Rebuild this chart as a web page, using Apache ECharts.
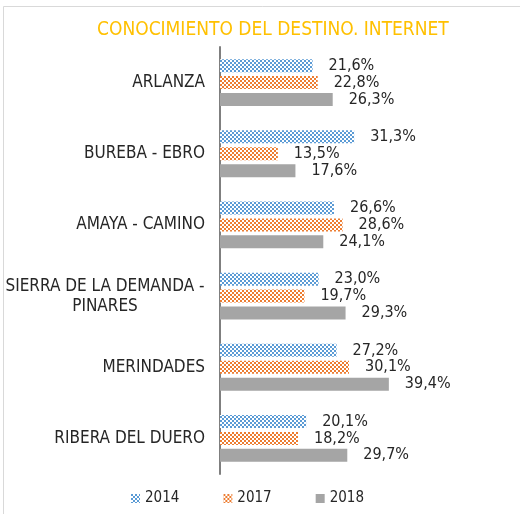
<!DOCTYPE html>
<html>
<head>
<meta charset="utf-8">
<script src="https://cdn.jsdelivr.net/npm/echarts@6/dist/echarts.min.js"></script>
<style>
  html, body { margin: 0; padding: 0; background: #fff; }
  #chart { width: 520px; height: 514px; }
</style>
</head>
<body>
<div id="chart"></div>
<script>
const titleText = 'CONOCIMIENTO DEL DESTINO. INTERNET';
const categories = ['ARLANZA', 'BUREBA - EBRO', 'AMAYA - CAMINO', 'SIERRA DE LA DEMANDA -\nPINARES', 'MERINDADES', 'RIBERA DEL DUERO'];
const years = ['2014', '2017', '2018'];
const values2014 = [21.6, 31.3, 26.6, 23.0, 27.2, 20.1];
const values2017 = [22.8, 13.5, 28.6, 19.7, 30.1, 18.2];
const values2018 = [26.3, 17.6, 24.1, 29.3, 39.4, 29.7];

const FONT = "'Liberation Sans Narrow', 'Arial Narrow', 'DejaVu Sans Condensed', sans-serif";

// small checkerboard tile used as a bar fill
function checker(fg, bg) {
  const c = document.createElement('canvas');
  c.width = 4; c.height = 4;
  const g = c.getContext('2d');
  g.fillStyle = bg; g.fillRect(0, 0, 4, 4);
  g.fillStyle = fg;
  g.fillRect(0, 0, 2, 2);
  g.fillRect(2, 2, 2, 2);
  return { image: c, repeat: 'repeat' };
}

const fills = [checker('#5B9BD5', '#ffffff'), checker('#ED7D31', '#ffffff'), '#A5A5A5'];
const seriesValues = [values2014, values2017, values2018];

const chart = echarts.init(document.getElementById('chart'), null, { renderer: 'canvas' });

const fmtPct = v => v.toFixed(1).replace('.', ',') + '%';

chart.setOption({
  animation: false,
  backgroundColor: '#ffffff',
  textStyle: { fontFamily: FONT },
  graphic: [{
    type: 'rect',
    shape: { x: 3.5, y: 6.5, width: 540, height: 540 },
    style: { fill: 'none', stroke: '#D9D9D9', lineWidth: 1 },
    silent: true
  }],
  title: {
    text: titleText,
    left: 92, top: 16,
    textStyle: { color: '#FFC000', fontSize: 19, fontWeight: 'normal', fontFamily: FONT }
  },
  legend: {
    left: 126, top: 486,
    itemWidth: 9, itemHeight: 9, itemGap: 44,
    itemStyle: { borderWidth: 0 },
    icon: 'rect',
    textStyle: { color: '#262626', fontSize: 15, fontFamily: FONT },
    data: years
  },
  grid: { left: 220, top: 47, width: 301, height: 427, containLabel: false },
  xAxis: {
    type: 'value', min: 0, max: 70,
    show: false
  },
  yAxis: {
    type: 'category', inverse: true,
    data: categories,
    axisLine: { show: true, lineStyle: { color: '#7F7F7F', width: 2 } },
    axisTick: { show: false },
    axisLabel: {
      margin: 15,
      color: '#262626', fontSize: 17, fontFamily: FONT,
      formatter: v => v.indexOf('\n') >= 0 ? v.split('\n').map(s => '{c|' + s + '}').join('\n') : v,
      rich: { c: { width: 200, align: 'center', fontSize: 17, fontFamily: FONT, color: '#262626', lineHeight: 20 } }
    }
  },
  series: years.map((y, i) => ({
    name: y,
    type: 'bar',
    data: seriesValues[i],
    barWidth: 13,
    barGap: '30%',
    itemStyle: { color: fills[i] },
    label: {
      show: true, position: 'right', distance: 16,
      color: '#262626', fontSize: 16, fontFamily: FONT,
      formatter: p => fmtPct(p.value)
    }
  }))
});
</script>
</body>
</html>
